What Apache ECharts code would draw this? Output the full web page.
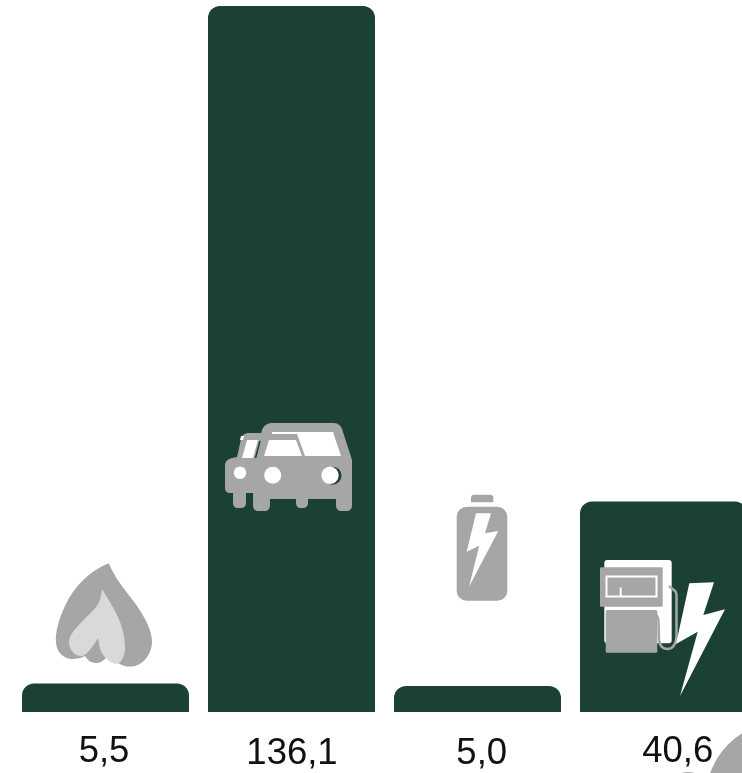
<!DOCTYPE html>
<html>
<head>
<meta charset="utf-8" />
<style>
  html, body { margin: 0; padding: 0; background: #fff; width: 742px; height: 773px; overflow: hidden; }
  /* the last bar runs past the right edge of the window */
  #main { width: 760px; height: 773px; }
</style>
</head>
<body>
<div id="main"></div>
<script src="https://cdn.jsdelivr.net/npm/echarts@6/dist/echarts.min.js"></script>
<script>
const labels = ["5,5", "136,1", "5,0", "40,6"];
const values = [5.5, 136.1, 5.0, 40.6];
// the labels under the bars are not quite in line with them
const labelOffsets = [[-1.5, 63], [0.5, 65], [4.2, 65], [14.2, 63]];

const GREEN = "#1b4035";
const GRAY = "#a6a6a6";
const LIGHT = "#d9d9d9";

// icons are drawn in page pixels, they are decoration and not data
const path = (d, fill, extra) => ({
  type: "path",
  shape: { pathData: d },
  style: Object.assign({ fill: fill }, extra),
});
const circle = (cx, cy, r, fill) => ({
  type: "circle",
  shape: { cx: cx, cy: cy, r: r },
  style: { fill: fill },
});
const rect = (x, y, width, height, r, style) => ({
  type: "rect",
  shape: { x: x, y: y, width: width, height: height, r: r },
  style: style,
});

const flame = [
  path("M108.7 563.3 C90 571 74 586 65 606 C58 620 55 635 56 642 C56 652 64 659 72 659 C77 659 82 658 85 656 C88 661 92 663 96 663 C100 663 103 661 106 658 C112 662 118 663 120 664 C125 667 130 667 135 666 C146 663 152 651 152 642 C152 632 147 622 141 612 C132 597 118 585 108.7 563.3 Z", GRAY),
  path("M102 589 C101 597 100 602 96 607 C90 614 84 619 78 626 C72 632 69 637 69 642 C69 650 75 656 81 656 C86 656 92 648 98 638 C99 645 100 651 104 656 C108 661 113 664 117 664 C122 662 125 655 125 648 C125 636 122 625 116 613 C112 605 107 597 102 589 Z", LIGHT),
];

const car = [
  // back car
  path("M225 466 C225 461 228 459 232 458 L237 457 L241 439 C242 435 245 433 249 433 L275 433 L275 493 L246 493 L246 503 C246 506 244 508 241 508 L238 508 C235 508 233 506 233 503 L233 493 L230 493 C227 493 225 491 225 488 Z", GRAY),
  // front car
  path("M262 430 C264 425 268 423 272 423 L334 423 C338 423 341 426 342 429 L352 460 L352 505 C352 509 350 511 346 511 L342 511 C338 511 336 509 336 505 L336 499 L308 499 L308 503 C308 506 306 508 303 508 L301 508 C298 508 296 506 296 503 L296 499 L270 499 L270 505 C270 509 268 511 264 511 L259 511 C255 511 253 509 253 505 L253 470 L258 445 Z", GRAY),
  path("M241 436 L244 436 L243 440 L240 440 Z", "#fff"),
  path("M247 440 L258 440 L253 458 L242 458 Z", "#fff"),
  path("M260 441 L255.5 458", "none", { stroke: GREEN, lineWidth: 1.5 }),
  path("M272 432 L333 432 L341 456 L305 456 L297 434 L272 434 Z", "#fff"),
  path("M269 440 L296 440 L302 456 L264 456 Z", "#fff"),
  circle(240, 472.7, 6.3, "#fff"),
  circle(272.7, 475.3, 8.5, "#fff"),
  circle(332.5, 475.7, 9, GREEN),
  circle(330, 475.3, 8.7, "#fff"),
];

const battery = [
  rect(471, 494.7, 22.3, 7.5, [3, 3, 0, 0], { fill: GRAY }),
  rect(456.7, 506.7, 50.6, 94, 10, { fill: GRAY }),
  path("M476 513.3 L491 513.3 L485 533.3 L498.3 531 L469 586.7 L479.3 545.7 L466.7 551.7 Z", "#fff"),
];

const pump = [
  rect(604.3, 560, 67.4, 83.3, 3, { fill: "#fff" }),
  rect(600, 567.3, 62.7, 39.4, 1, { fill: GRAY }),
  rect(606.5, 576.5, 50, 20, 0, { fill: "none", stroke: "#fff", lineWidth: 2 }),
  path("M620.7 597 L620.7 587.5", "none", { stroke: "#fff", lineWidth: 2 }),
  rect(605.7, 610, 51.6, 42.7, 1.5, { fill: GRAY }),
  path("M669 586 L675 591 Q676.5 592.5 676.5 595 L676.5 636 Q676 648 668 649 Q660 649 659 640 L658.5 622 Q658.5 617 656 615", "none", { stroke: GRAY, lineWidth: 2.5 }),
  path("M689.3 583.3 L714 582.3 L703.3 615 L725 609.3 L680 696 L697.7 631.7 L676 644 Z", "#fff"),
];

// the two cut off discs in the bottom corner
const corner = [circle(785, 800, 79.5, GRAY), circle(688, 795, 23, GRAY)];

const chart = echarts.init(document.getElementById("main"), null, { renderer: "canvas" });
chart.setOption({
  animation: false,
  backgroundColor: "#fff",
  grid: { left: 12.5, top: 6, width: 744, height: 706, containLabel: false },
  xAxis: {
    type: "category",
    data: labels,
    axisLine: { show: false },
    axisTick: { show: false },
    axisLabel: { show: false },
  },
  yAxis: { type: "value", min: 0, max: 136.1, show: false },
  series: [
    {
      type: "bar",
      data: values.map((v, i) => ({ value: v, label: { offset: labelOffsets[i] } })),
      barWidth: 167,
      itemStyle: { color: GREEN, borderRadius: [12, 12, 0, 0] },
      label: {
        show: true,
        position: "insideBottom",
        formatter: p => labels[p.dataIndex],
        fontFamily: "Liberation Sans",
        fontSize: 36.5,
        color: "#111",
      },
    },
    {
      type: "custom",
      coordinateSystem: "none",
      silent: true,
      z: 10,
      data: [0],
      renderItem: () => ({
        type: "group",
        children: [...flame, ...car, ...battery, ...pump, ...corner],
      }),
    },
  ],
});
</script>
</body>
</html>
